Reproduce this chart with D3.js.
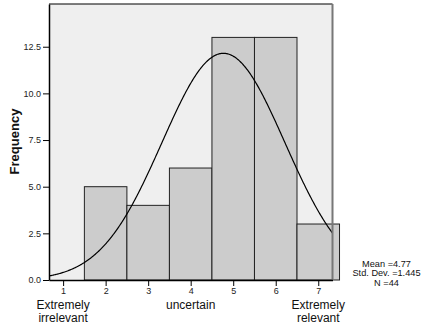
<!DOCTYPE html>
<html>
<head>
<meta charset="utf-8">
<script src="https://cdn.jsdelivr.net/npm/d3@7/dist/d3.min.js"></script>
<style>
  html, body { margin: 0; padding: 0; background: #fff; }
  svg { display: block; font-family: Arial, "Liberation Sans", sans-serif; }
</style>
</head>
<body>
<svg id="chart" width="427" height="331"></svg>
<script>
// Response scale 1..7 and the number of answers in each
const categories = [1, 2, 3, 4, 5, 6, 7];
const counts = [0, 5, 4, 6, 13, 13, 3];
const yTicks = [0, 2.5, 5, 7.5, 10, 12.5];
const anchorLabels = [
  { value: 1, lines: ["Extremely", "irrelevant"] },
  { value: 4, lines: ["uncertain"] },
  { value: 7, lines: ["Extremely", "relevant"] }
];
const stats = { mean: 4.77, sd: 1.445, n: 44 };
const statLines = ["Mean =4.77", "Std. Dev. =1.445", "N =44"];

const svg = d3.select("#chart");
const plotL = 49, plotR = 332.5, plotT = 4, plotB = 280;

const x = d3.scaleLinear().domain([0.668, 7.335]).range([plotL, plotR]);
const y = d3.scaleLinear().domain([0, 14.79]).range([plotB, plotT]);

// plot background
svg.append("rect")
  .attr("x", plotL).attr("y", plotT)
  .attr("width", plotR - plotL).attr("height", plotB - plotT)
  .attr("fill", "#efefef");

// bars
svg.append("g").selectAll("rect")
  .data(categories.map((c, i) => ({ c, v: counts[i] })).filter(d => d.v > 0))
  .join("rect")
  .attr("x", d => x(d.c - 0.5))
  .attr("y", d => y(d.v))
  .attr("width", d => x(d.c + 0.5) - x(d.c - 0.5))
  .attr("height", d => y(0) - y(d.v))
  .attr("fill", "#cccccc")
  .attr("stroke", "#222")
  .attr("stroke-width", 1);

// fitted normal curve, scaled to counts (bin width 1)
const pdf = v => stats.n / (stats.sd * Math.sqrt(2 * Math.PI)) *
  Math.exp(-0.5 * Math.pow((v - stats.mean) / stats.sd, 2));
const xs = d3.range(0, 401).map(i => x.domain()[0] + (x.domain()[1] - x.domain()[0]) * i / 400);
svg.append("path")
  .datum(xs)
  .attr("d", d3.line().x(v => x(v)).y(v => y(pdf(v))))
  .attr("fill", "none")
  .attr("stroke", "#000")
  .attr("stroke-width", 1.2);

// frame: black top edge, grey right edge
svg.append("line").attr("x1", plotL).attr("x2", plotR).attr("y1", plotT).attr("y2", plotT)
  .attr("stroke", "#000").attr("stroke-width", 1.2);
svg.append("line").attr("x1", plotR).attr("x2", plotR).attr("y1", plotT).attr("y2", plotB)
  .attr("stroke", "#777").attr("stroke-width", 2);

// y axis
const yAxis = svg.append("g")
  .attr("transform", `translate(${plotL},0)`)
  .call(d3.axisLeft(y).tickValues(yTicks).tickFormat(d3.format(".1f"))
    .tickSizeInner(6).tickSizeOuter(0).tickPadding(2));
yAxis.select(".domain").attr("stroke", "#000").attr("stroke-width", 1.5);
yAxis.selectAll("text").attr("font-size", 9).attr("fill", "#222")
  .attr("font-family", "Arial, 'Liberation Sans', sans-serif");

// x axis
const xAxis = svg.append("g")
  .attr("transform", `translate(0,${plotB})`)
  .call(d3.axisBottom(x).tickValues(categories).tickFormat(d3.format("d"))
    .tickSizeInner(6).tickSizeOuter(0).tickPadding(2));
xAxis.select(".domain").attr("stroke", "#000").attr("stroke-width", 1.5);
xAxis.selectAll("text").attr("font-size", 9).attr("fill", "#222")
  .attr("font-family", "Arial, 'Liberation Sans', sans-serif");

// anchor descriptions below tick numbers
anchorLabels.forEach(a => {
  const t = svg.append("text")
    .attr("x", x(a.value))
    .attr("y", 309)
    .attr("text-anchor", "middle")
    .attr("font-size", 12)
    .attr("fill", "#111");
  a.lines.forEach((ln, i) => {
    t.append("tspan").attr("x", x(a.value)).attr("dy", i === 0 ? 0 : 13).text(ln);
  });
});

// y title
svg.append("text")
  .attr("transform", `translate(18.5,141.5) rotate(-90)`)
  .attr("text-anchor", "middle")
  .attr("font-size", 13)
  .attr("font-weight", "bold")
  .attr("fill", "#111")
  .text("Frequency");

// summary statistics
svg.append("g").selectAll("text")
  .data(statLines)
  .join("text")
  .attr("x", 386.5)
  .attr("y", (d, i) => 266.5 + i * 9.5)
  .attr("text-anchor", "middle")
  .attr("font-size", 9.2)
  .attr("fill", "#111")
  .text(d => d);
</script>
</body>
</html>
